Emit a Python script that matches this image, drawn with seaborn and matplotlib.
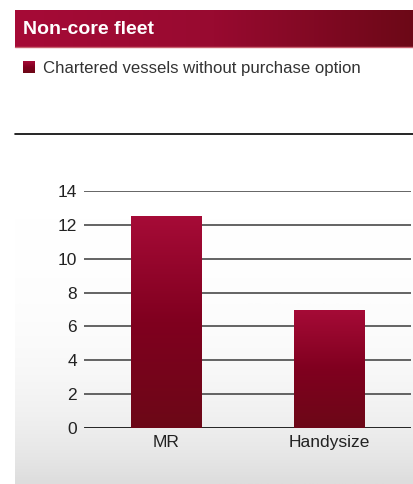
import numpy as np
import pandas as pd
import matplotlib
matplotlib.use("Agg")
import matplotlib.pyplot as plt
from matplotlib.colors import LinearSegmentedColormap
from matplotlib.lines import Line2D
import seaborn as sns

# Data
categories = ["MR", "Handysize"]
vessels = [12.5, 7]
y_ticks = [0, 2, 4, 6, 8, 10, 12, 14]

title = "Non-core fleet"
legend_label = "Chartered vessels without purchase option"

sns.set_theme(style="white")
plt.rcParams["font.family"] = ["Liberation Sans", "DejaVu Sans"]

W, H = 414, 484
fig = plt.figure(figsize=(W / 100, H / 100), dpi=100)
fig.patch.set_facecolor("white")

def fx(px):
    return px / W

def fy(py):
    return 1 - py / H

red_top = "#a60b37"
red_bot = "#6c0817"
bar_cmap = LinearSegmentedColormap.from_list("bar", [red_bot, "#80001f", red_top])

# Soft grey backdrop that fades in towards the bottom
bg_ax = fig.add_axes([fx(15), 0, 1 - fx(15), fy(140)])
bg_ax.set_axis_off()
t = np.linspace(0, 1, 256) ** 3.8
bg_cmap = LinearSegmentedColormap.from_list("bg", ["#ffffff", "#dddddd"])
bg_ax.imshow(t[::-1, None], aspect="auto", cmap=bg_cmap, extent=[0, 1, 0, 1],
             vmin=0, vmax=1, origin="lower")
bg_ax.set_xlim(0, 1); bg_ax.set_ylim(0, 1)

# Title band
band_ax = fig.add_axes([fx(15), fy(47), 1 - fx(15), (47 - 10) / H])
band_ax.set_axis_off()
band_cmap = LinearSegmentedColormap.from_list("band", [red_top, "#980a30", "#6c0817"])
band_ax.imshow(np.linspace(0, 1, 256)[None, :], aspect="auto", cmap=band_cmap,
               extent=[0, 1, 0, 1])
band_ax.set_xlim(0, 1); band_ax.set_ylim(0, 1)
fig.add_artist(Line2D([fx(15), 1], [fy(46.5), fy(46.5)], color="#c9606f", lw=1))
fig.text(fx(23), fy(29), title, color="white", fontsize=14, fontweight="bold",
         va="center", ha="left")

# Legend swatch and label
sw_ax = fig.add_axes([fx(23), fy(73), 12 / W, 12 / H])
sw_ax.set_axis_off()
sw_ax.imshow(np.linspace(0, 1, 64)[:, None], aspect="auto", cmap=bar_cmap,
             extent=[0, 1, 0, 1], origin="lower")
fig.text(fx(43), fy(68.5), legend_label, color="#333333", fontsize=12.1,
         va="center", ha="left")

# Separator rule
fig.add_artist(Line2D([fx(15), 1], [fy(134), fy(134)], color="black", lw=1.2))

# Bar chart
ax = fig.add_axes([fx(84), fy(428), fx(411) - fx(84), (428 - 191) / H])
ax.patch.set_alpha(0)
df = pd.DataFrame({"category": categories, "vessels": vessels})
sns.barplot(data=df, x="category", y="vessels", ax=ax, width=0.43,
            color=red_bot, saturation=1, zorder=3)

ax.set_xlim(-0.5, 1.5)
ax.set_ylim(0, 14)
ax.set_yticks(y_ticks)
ax.set_xlabel("")
ax.set_ylabel("")
for s in ax.spines.values():
    s.set_visible(False)
ax.tick_params(axis="both", length=0, labelsize=12.5, colors="#222222")
ax.tick_params(axis="y", pad=5)
ax.tick_params(axis="x", pad=5)

for v in y_ticks:
    ax.axhline(v, color="#111111" if v == 0 else "#3a3a3a",
               lw=2 if v == 0 else 1.1, zorder=1)

# Vertical gradient fill for the bars
for patch in ax.patches:
    x0, y0 = patch.get_x(), patch.get_y()
    w, h = patch.get_width(), patch.get_height()
    grad = np.linspace(0, 1, 256)[:, None]
    im = ax.imshow(grad, aspect="auto", cmap=bar_cmap, origin="lower",
                   extent=[x0, x0 + w, y0, y0 + h], zorder=4)
    im.set_clip_path(patch)
    patch.set_facecolor("none")
    patch.set_edgecolor("none")

ax.set_xlim(-0.5, 1.5)
ax.set_ylim(0, 14)

fig.savefig("out.png", dpi=100)
